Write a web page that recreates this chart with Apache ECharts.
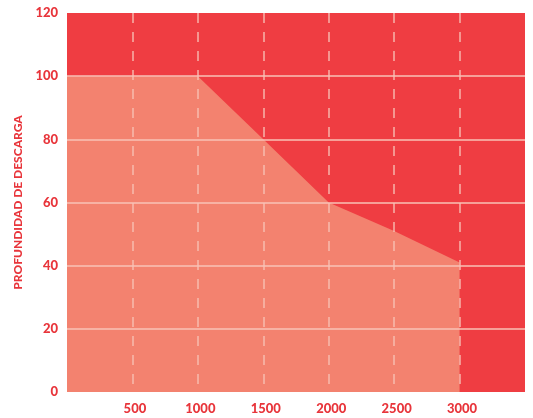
<!DOCTYPE html>
<html>
<head>
<meta charset="utf-8">
<script src="https://cdn.jsdelivr.net/npm/echarts@6/dist/echarts.min.js"></script>
<style>html,body{margin:0;padding:0;background:#fff}#c{width:533px;height:418px}</style>
</head>
<body>
<div id="c"></div>
<script>
var cycles = [0, 1000, 1500, 2000, 2500, 3000];
var depth = [100, 100, 80, 60, 51, 41];
var xTicks = [500, 1000, 1500, 2000, 2500, 3000];
var yTicks = [0, 20, 40, 60, 80, 100, 120];
var yName = 'PROFUNDIDAD DE DESCARGA';

var red = '#e8353b';
var chart = echarts.init(document.getElementById('c'));
chart.setOption({
  animation: false,
  grid: { left: 67, right: 8, top: 13, bottom: 26, show: true, backgroundColor: '#ef3d42', borderWidth: 0 },
  xAxis: {
    type: 'value', min: 0, max: 3500, interval: 500, z: 5,
    axisLine: { show: false }, axisTick: { show: false },
    axisLabel: {
      color: red, fontFamily: 'Lato', fontWeight: 900, fontSize: 13, margin: 10,
      padding: [0, 0, 0, 5],
      formatter: function (v) { return xTicks.indexOf(v) >= 0 ? String(v) : ''; }
    },
    splitLine: { show: true, showMinLine: false, showMaxLine: false,
      lineStyle: { color: '#f8c2b6', width: 1.5, type: [10, 9], opacity: 0.9 } }
  },
  yAxis: {
    type: 'value', min: 0, max: 120, interval: 20, z: 5,
    name: yName, nameLocation: 'middle', nameGap: 42,
    nameTextStyle: { color: red, fontFamily: 'Lato', fontWeight: 900, fontSize: 12 },
    axisLine: { show: false }, axisTick: { show: false },
    axisLabel: {
      color: red, fontFamily: 'Lato', fontWeight: 900, fontSize: 13, margin: 9,
      formatter: function (v) { return yTicks.indexOf(v) >= 0 ? String(v) : ''; }
    },
    splitLine: { show: true, showMinLine: false, showMaxLine: false,
      lineStyle: { color: '#f8c2b6', width: 1.5 } }
  },
  series: [{
    type: 'line', symbol: 'none', z: 2,
    data: cycles.map(function (c, i) { return [c, depth[i]]; }),
    lineStyle: { width: 0 },
    areaStyle: { color: '#f3826f', opacity: 1 }
  }]
});
</script>
</body>
</html>
